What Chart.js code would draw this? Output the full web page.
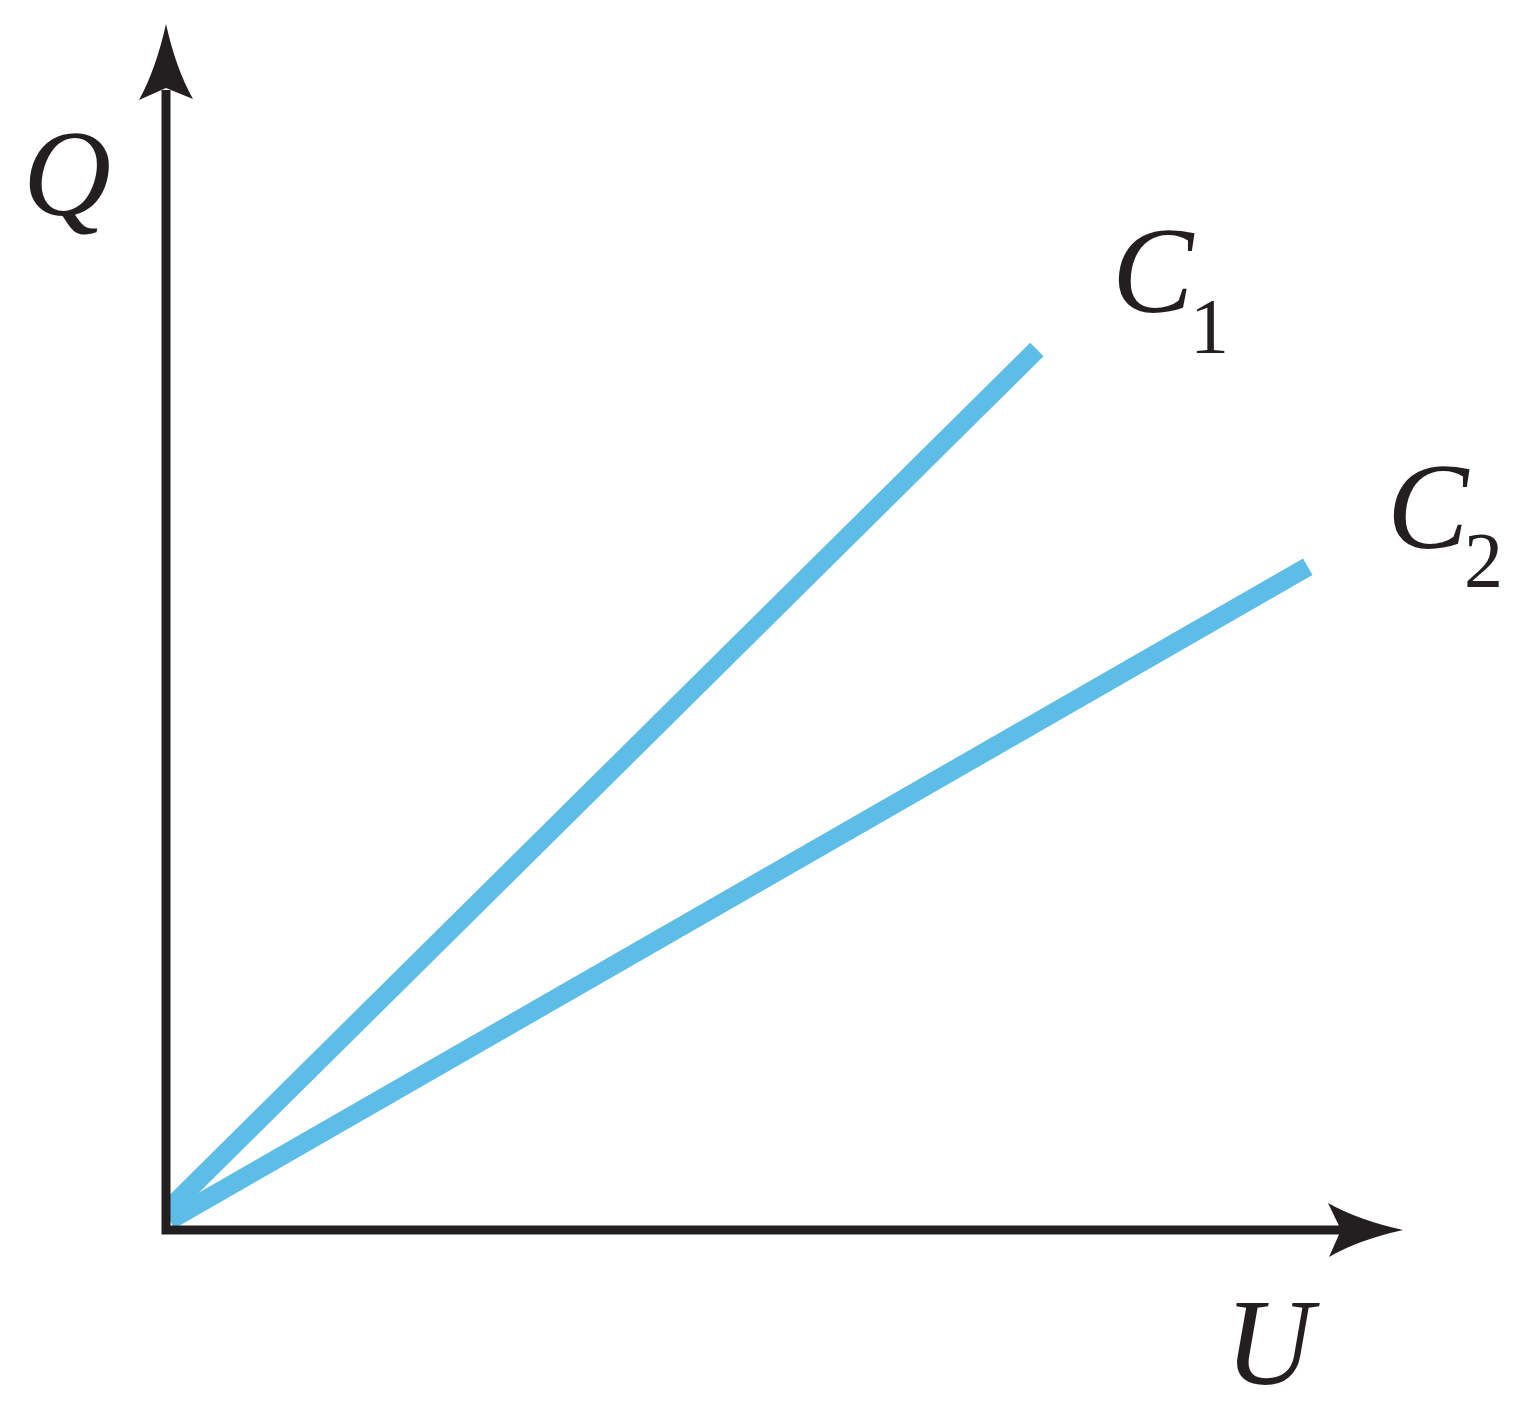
<!DOCTYPE html>
<html>
<head>
<meta charset="utf-8">
<script src="https://cdn.jsdelivr.net/npm/chart.js@4"></script>
<style>
  html, body { margin: 0; padding: 0; background: #fff; }
  canvas { display: block; }
</style>
</head>
<body>
<canvas id="chart" width="1528" height="1404"></canvas>
<script>
// values, in axis units (0..100 on both axes)
const c1U = [0.3, 70.4]
const c1Q = [1.8, 73.0]
const c2U = [0.3, 92.3]
const c2Q = [0.8, 55.0]
const axisMax = 100

const lineColor = "#5ebde6"
const inkColor = "#231f20"
const serif = "'Liberation Serif', 'Times New Roman', Tinos, 'DejaVu Serif', serif"

const toPoints = (xs, ys) => xs.map((x, i) => ({ x, y: ys[i] }))

const buildDataset = (label, data) => ({
  label,
  data,
  borderColor: lineColor,
  backgroundColor: "transparent",
  borderWidth: 19,
  borderCapStyle: "butt",
  pointRadius: 0,
  tension: 0,
  clip: { left: 0, bottom: 0, top: false, right: false }
})

// axes with arrow heads plus the italic labels
const axesPlugin = {
  id: "axes",
  afterDatasetsDraw(chart) {
    const { ctx, scales: { x, y } } = chart
    const ox = x.getPixelForValue(0)
    const oy = y.getPixelForValue(0)
    const topY = y.getPixelForValue(axisMax)
    const rightX = x.getPixelForValue(axisMax)

    ctx.save()
    ctx.strokeStyle = inkColor
    ctx.fillStyle = inkColor
    ctx.lineWidth = 9
    ctx.lineJoin = "miter"
    ctx.beginPath()
    ctx.moveTo(ox, topY + 66)
    ctx.lineTo(ox, oy)
    ctx.lineTo(rightX - 62, oy)
    ctx.stroke()

    // up arrow
    ctx.beginPath()
    ctx.moveTo(ox, topY)
    ctx.quadraticCurveTo(ox - 10, topY + 45, ox - 27, topY + 76)
    ctx.lineTo(ox, topY + 64)
    ctx.lineTo(ox + 27, topY + 75)
    ctx.quadraticCurveTo(ox + 10, topY + 45, ox, topY)
    ctx.closePath()
    ctx.fill()

    // right arrow
    ctx.beginPath()
    ctx.moveTo(rightX, oy)
    ctx.quadraticCurveTo(rightX - 45, oy - 10, rightX - 75, oy - 27)
    ctx.lineTo(rightX - 62, oy)
    ctx.lineTo(rightX - 74, oy + 27)
    ctx.quadraticCurveTo(rightX - 45, oy + 10, rightX, oy)
    ctx.closePath()
    ctx.fill()

    ctx.textBaseline = "alphabetic"
    ctx.textAlign = "left"
    ctx.font = "italic 122px " + serif
    ctx.fillText("Q", ox - 143, 215)
    ctx.fillText("U", rightX - 178, oy + 154)
    ctx.fillText("C", 1112, 312)
    ctx.fillText("C", 1387, 548)

    ctx.font = "78px " + serif
    ctx.fillText("1", 1190, 352)
    ctx.fillText("2", 1464, 586)
    ctx.restore()
  }
}

new Chart(document.getElementById("chart").getContext("2d"), {
  type: "line",
  data: {
    datasets: [
      buildDataset("C1", toPoints(c1U, c1Q)),
      buildDataset("C2", toPoints(c2U, c2Q))
    ]
  },
  options: {
    responsive: false,
    animation: false,
    layout: { padding: { left: 166, right: 125, top: 24, bottom: 174 } },
    plugins: {
      legend: { display: false },
      tooltip: { enabled: false }
    },
    scales: {
      x: { type: "linear", min: 0, max: axisMax, display: false },
      y: { type: "linear", min: 0, max: axisMax, display: false }
    }
  },
  plugins: [axesPlugin]
})
</script>
</body>
</html>
